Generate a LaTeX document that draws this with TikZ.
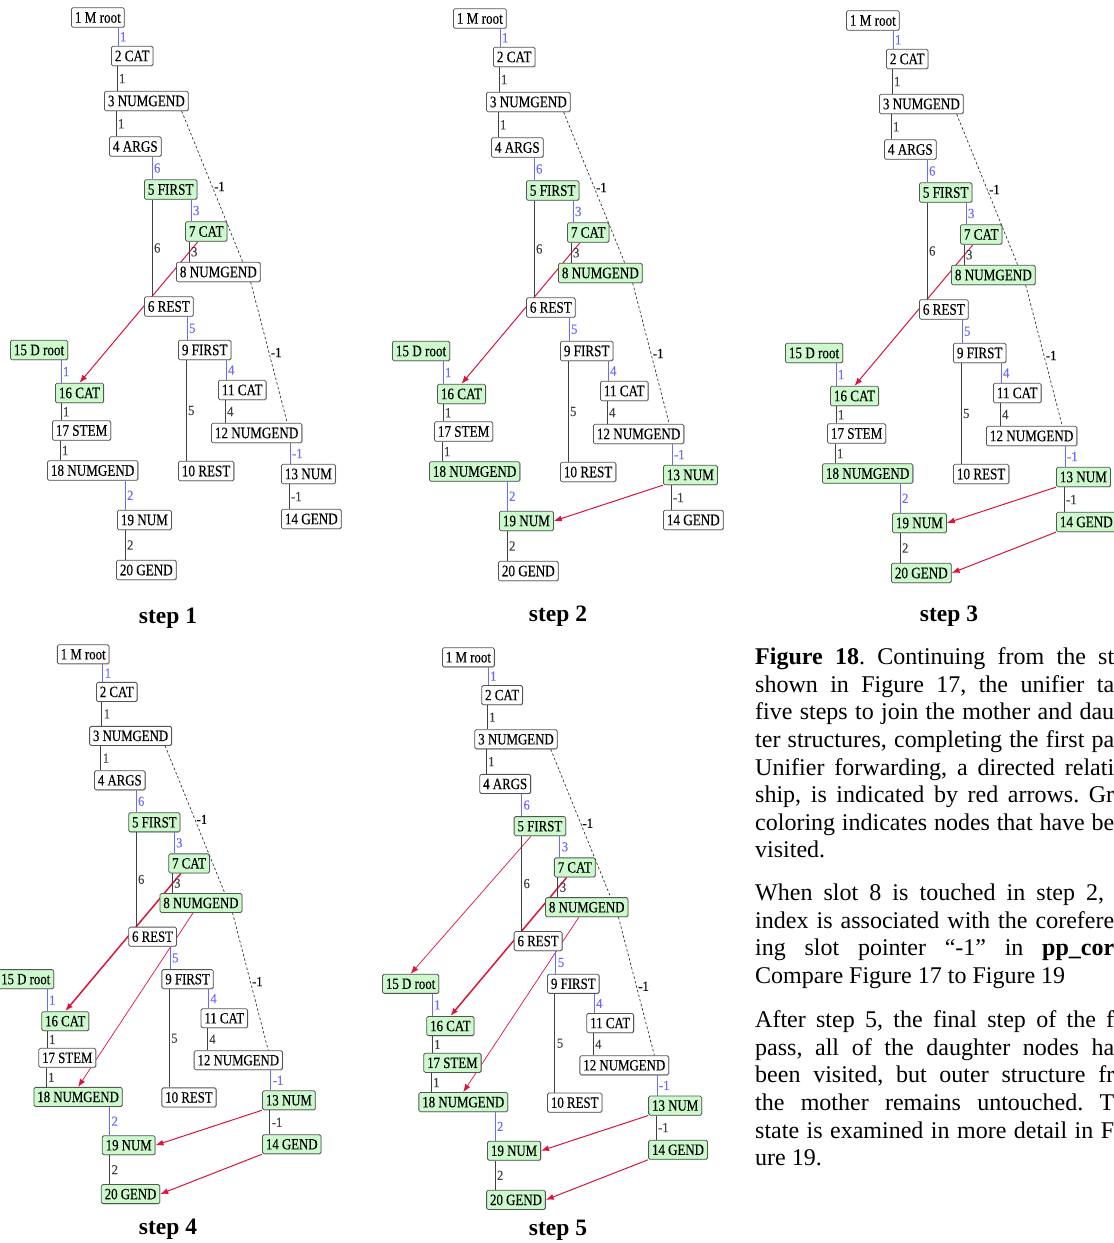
\documentclass[tikz,border=0pt]{standalone}
\usepackage{fontspec}
\setmainfont{Liberation Serif}
\newfontfamily\boxfont[FakeStretch=0.82, FakeBold=0.25]{Liberation Serif}
\newfontfamily\slotfont[FakeStretch=0.92, FakeBold=0.2]{Liberation Serif}
\usepackage{tikz}
\usetikzlibrary{arrows.meta,backgrounds,shadows}
\definecolor{fsgreen}{HTML}{CCFACC}
\definecolor{fsblue}{HTML}{6A6AFF}
\definecolor{fsred}{HTML}{DC143C}
\definecolor{fsframe}{HTML}{555555}
\newcommand{\nodesize}{\boxfont\fontsize{16}{17}\selectfont}
\newcommand{\lblsize}{\slotfont\fontsize{14}{15}\selectfont}
\newcommand{\cutline}[1]{\makebox[359pt][s]{#1}}
\tikzset{
  fs/.style={draw=fsframe, fill=white, line width=0.8pt, rounded corners=1.5pt,
    anchor=west, inner xsep=3.5pt, inner ysep=0pt, minimum height=19.5pt, font=\nodesize,
    drop shadow={shadow xshift=0.7pt, shadow yshift=-0.7pt, fill=black!40, opacity=0.5}},
  visited/.style={fill=fsgreen},
  v5/.style={}, v7/.style={}, v8/.style={}, v13/.style={}, v14/.style={}, v15/.style={},
  v16/.style={}, v17/.style={}, v18/.style={}, v19/.style={}, v20/.style={},
  stage1/.style={v5/.style=visited, v7/.style=visited, v15/.style=visited, v16/.style=visited},
  stage2/.style={stage1, v8/.style=visited, v13/.style=visited, v18/.style=visited, v19/.style=visited},
  stage3/.style={stage2, v14/.style=visited, v20/.style=visited},
  stage5/.style={stage3, v17/.style=visited},
  link/.style={color=black!75, line width=1pt},
  blink/.style={color=fsblue, line width=1pt},
  lbl/.style={right, inner sep=1.5pt, font=\lblsize},
  coref/.style={draw=black!80, line width=0.7pt, dash pattern=on 2.5pt off 2.2pt},
  fwd/.style={draw=fsred, line width=1pt, -{Latex[length=8pt,width=6pt]}},
  fwd thin/.style={fwd, line width=0.7pt},
  fwd thick/.style={fwd, line width=1.5pt},
  steplabel/.style={anchor=base, font=\fontsize{23.5}{28}\selectfont\bfseries},
  note/.style={anchor=north west, align=left, inner sep=0pt,
    font=\fontsize{24}{27.6}\selectfont\frenchspacing}
}
% vertical slot link: parent, child, offset from child's left, label
\newcommand{\fslink}[5][link]{%
  \path (#3.north west) ++(#4,0) coordinate (top);
  \draw[#1] (top |- #2.south) -- (top) node[midway, lbl] {#5};}
\newcommand{\fscoref}[4]{%
  \draw[coref] ([xshift=-#2]#1.south east) -- ([xshift=-#4]#3.north east) node[midway, lbl] {-1};}
\newcommand{\fstree}[1]{%
  \node[fs] (#1n1) at (71,17.5) {1 M root};
  \node[fs] (#1n2) at (111,56) {2 CAT};
  \node[fs] (#1n3) at (104,101) {3 NUMGEND};
  \node[fs] (#1n4) at (109,146.5) {4 ARGS};
  \node[fs, v5] (#1n5) at (144,189.5) {5 FIRST};
  \node[fs] (#1n6) at (144,306.5) {6 REST};
  \node[fs, v7] (#1n7) at (185,231.5) {7 CAT};
  \node[fs, v8] (#1n8) at (176,272) {8 NUMGEND};
  \node[fs] (#1n9) at (178,350) {9 FIRST};
  \node[fs] (#1n10) at (178,471) {10 REST};
  \node[fs] (#1n11) at (218,390) {11 CAT};
  \node[fs] (#1n12) at (211,433) {12 NUMGEND};
  \node[fs, v13] (#1n13) at (281,474) {13 NUM};
  \node[fs, v14] (#1n14) at (281,519) {14 GEND};
  \node[fs, v15] (#1n15) at (10,350) {15 D root};
  \node[fs, v16] (#1n16) at (55,393) {16 CAT};
  \node[fs, v17] (#1n17) at (52,430.5) {17 STEM};
  \node[fs, v18] (#1n18) at (47,470.5) {18 NUMGEND};
  \node[fs, v19] (#1n19) at (117,520) {19 NUM};
  \node[fs, v20] (#1n20) at (116,570) {20 GEND};
  \fslink[blink]{#1n1}{#1n2}{7}{1}
  \fslink{#1n2}{#1n3}{13}{1}
  \fslink{#1n3}{#1n4}{7}{1}
  \fslink[blink]{#1n4}{#1n5}{8}{6}
  \fslink[blink]{#1n5}{#1n7}{6}{3}
  \fslink{#1n7}{#1n8}{13}{3}
  \fslink{#1n5}{#1n6}{8}{6}
  \fslink[blink]{#1n6}{#1n9}{9}{5}
  \fslink{#1n9}{#1n10}{8}{5}
  \fslink[blink]{#1n9}{#1n11}{8}{4}
  \fslink{#1n11}{#1n12}{14}{4}
  \fslink[blink]{#1n12}{#1n13}{9}{-1}
  \fslink{#1n13}{#1n14}{8}{-1}
  \fslink[blink]{#1n15}{#1n16}{6}{1}
  \fslink{#1n16}{#1n17}{9}{1}
  \fslink{#1n17}{#1n18}{13}{1}
  \fslink[blink]{#1n18}{#1n19}{8}{2}
  \fslink{#1n19}{#1n20}{9}{2}
  \fscoref{#1n3}{7}{#1n8}{18}
  \fscoref{#1n8}{10}{#1n12}{15}
}

\begin{document}
\begin{tikzpicture}[x=1pt, y=-1pt]
  \useasboundingbox (0,0) rectangle (1114,1243);

  \begin{scope}[stage1]
    \fstree{s1}
    \begin{scope}[on background layer]
      \draw[fwd] ([xshift=13]s1n7.south west) -- (s1n16.north);
    \end{scope}
  \end{scope}

  \begin{scope}[shift={(382,1)}, stage2]
    \fstree{s2}
    \begin{scope}[on background layer]
      \draw[fwd] ([xshift=13]s2n7.south west) -- (s2n16.north);
      \draw[fwd] (s2n13.south west) -- (s2n19.east);
    \end{scope}
  \end{scope}

  \begin{scope}[shift={(775,3)}, stage3]
    \fstree{s3}
    \begin{scope}[on background layer]
      \draw[fwd] ([xshift=13]s3n7.south west) -- (s3n16.north);
      \draw[fwd] (s3n13.south west) -- (s3n19.east);
      \draw[fwd] (s3n14.south west) -- (s3n20.east);
    \end{scope}
  \end{scope}

  \begin{scope}[shift={(-12.4,637.2)}, scale=0.977, transform shape, stage3]
    \fstree{s4}
    \begin{scope}[on background layer]
      \draw[fwd thick] ([xshift=13]s4n7.south west) -- (s4n16.north);
      \draw[fwd thin] ([xshift=-8]s4n8.south) -- (s4n18.north);
      \draw[fwd] (s4n13.south west) -- (s4n19.east);
      \draw[fwd] (s4n14.south west) -- (s4n20.east);
    \end{scope}
  \end{scope}

  \begin{scope}[shift={(372.3,640.1)}, scale=0.982, transform shape, stage5]
    \fstree{s5}
    \begin{scope}[on background layer]
      \draw[fwd thin] ([xshift=-9]s5n5.south) -- (s5n15.north);
      \draw[fwd thick] ([xshift=13]s5n7.south west) -- (s5n16.north);
      \draw[fwd thin] ([xshift=-8]s5n8.south) -- (s5n18.north);
      \draw[fwd] (s5n13.south west) -- (s5n19.east);
      \draw[fwd] (s5n14.south west) -- (s5n20.east);
    \end{scope}
  \end{scope}

  \node[steplabel] (lblA) at (168,623) {step 1};
  \node[steplabel] (lblB) at (558,621) {step 2};
  \node[steplabel] (lblC) at (949,621) {step 3};
  \node[steplabel] (lblD) at (168,1234) {step 4};
  \node[steplabel] (lblE) at (558,1235) {step 5};

  \node[note] (capA) at (755,647.6) {\cutline{\textbf{Figure 18}. Continuing from the st}\\
    \cutline{shown in Figure 17, the unifier ta}\\
    \cutline{five steps to join the mother and dau}\\
    \cutline{ter structures, completing the first pa}\\
    \cutline{Unifier forwarding, a directed relati}\\
    \cutline{ship, is indicated by red arrows. Gr}\\
    \cutline{coloring indicates nodes that have be}\\
    visited.};
  \node[note] (capB) at (755,883.6) {\makebox[349pt][s]{When slot 8 is touched in step 2,}\\
    \cutline{index is associated with the corefere}\\
    \cutline{ing slot pointer “-1” in \textbf{pp\_cor}}\\
    Compare Figure 17 to Figure 19};
  \node[note] (capC) at (755,1010.6) {\cutline{After step 5, the final step of the f}\\
    \cutline{pass, all of the daughter nodes ha}\\
    \cutline{been visited, but outer structure fr}\\
    \cutline{the mother remains untouched. T}\\
    \cutline{state is examined in more detail in F}\\
    ure 19.};
\end{tikzpicture}
\end{document}
